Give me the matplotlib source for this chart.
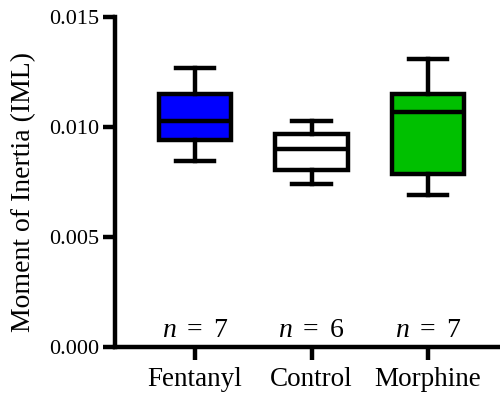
import matplotlib
matplotlib.use("Agg")
import matplotlib.pyplot as plt

plt.rcParams['font.family'] = ['Liberation Serif', 'DejaVu Serif']
plt.rcParams['mathtext.fontset'] = 'custom'
plt.rcParams['mathtext.it'] = 'Liberation Serif:italic'
plt.rcParams['mathtext.rm'] = 'Liberation Serif'

groups = ['Fentanyl', 'Control', 'Morphine']
n_counts = [7, 6, 7]
whisk_lo = [0.00845, 0.00739, 0.00693]
q1 = [0.00940, 0.00805, 0.00786]
medians = [0.01027, 0.00900, 0.01070]
q3 = [0.01150, 0.00970, 0.01150]
whisk_hi = [0.01269, 0.01026, 0.01307]
colors = ['#0000FF', '#FFFFFF', '#00C000']

stats = []
for i, g in enumerate(groups):
    stats.append(dict(label=g, whislo=whisk_lo[i], q1=q1[i], med=medians[i],
                      q3=q3[i], whishi=whisk_hi[i], fliers=[]))

fig = plt.figure(figsize=(5, 4), dpi=100)
ax = fig.add_axes([0.23, 0.132, 0.77, 0.826])

lw = 3.2
bp = ax.bxp(stats, positions=range(len(groups)), widths=0.62, capwidths=0.33,
            patch_artist=True, showfliers=False,
            boxprops=dict(linewidth=lw, edgecolor='black'),
            whiskerprops=dict(linewidth=lw, color='black'),
            capprops=dict(linewidth=lw, color='black'),
            medianprops=dict(linewidth=lw, color='black', solid_capstyle='butt'))
for patch, c in zip(bp['boxes'], colors):
    patch.set_facecolor(c)

# sample sizes along the bottom of each group
for i, n in enumerate(n_counts):
    ax.text(i, 0.0002, r'$n$ $=$ %d' % n, ha='center', va='bottom', fontsize=20)

ax.set_xlim(-0.687, 2.618)
ax.set_ylim(0, 0.015)
ax.set_yticks([0, 0.005, 0.010, 0.015])
ax.set_yticklabels(['0.000', '0.005', '0.010', '0.015'], fontsize=16)
ax.set_xticks(range(len(groups)))
ax.set_xticklabels(groups, fontsize=19.5)
ax.set_ylabel('Moment of Inertia (IML)', fontsize=20)
ax.yaxis.set_label_coords(-0.205, 0.47)

for side in ['top', 'right']:
    ax.spines[side].set_visible(False)
for side in ['left', 'bottom']:
    ax.spines[side].set_linewidth(lw)
ax.tick_params(width=lw, length=9, pad=2)
ax.tick_params(axis='x', pad=5)

fig.savefig('out.png', dpi=100)
